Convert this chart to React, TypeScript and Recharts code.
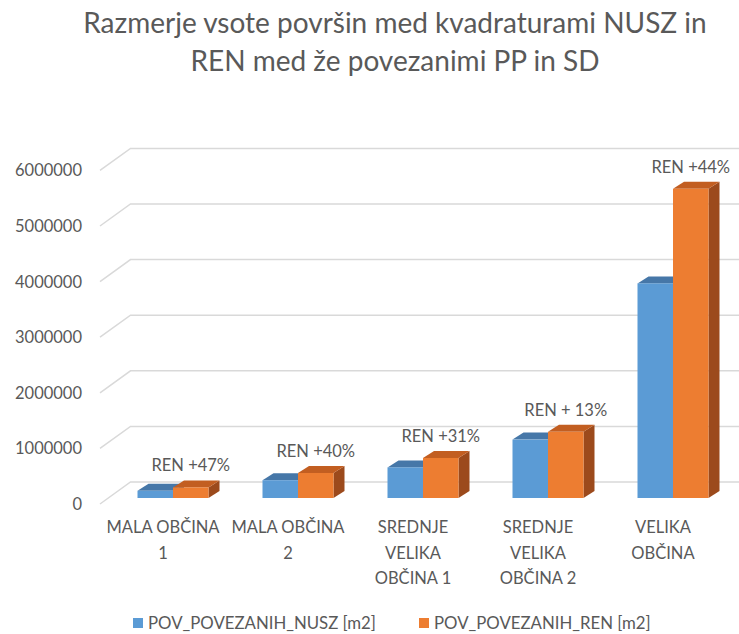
import React from 'react';
import { BarChart, Bar, XAxis, YAxis, CartesianGrid, Legend, LabelList } from 'recharts';

const categories = ['MALA OBČINA 1', 'MALA OBČINA 2', 'SREDNJE VELIKA OBČINA 1', 'SREDNJE VELIKA OBČINA 2', 'VELIKA OBČINA'];
const categoryLines = [
  ['MALA OBČINA', '1'],
  ['MALA OBČINA', '2'],
  ['SREDNJE', 'VELIKA', 'OBČINA 1'],
  ['SREDNJE', 'VELIKA', 'OBČINA 2'],
  ['VELIKA', 'OBČINA'],
];
const nuszValues = [130000, 320000, 550000, 1050000, 3860000];
const renValues = [190000, 450000, 720000, 1190000, 5560000];
const renLabels = ['REN +47%', 'REN +40%', 'REN +31%', 'REN + 13%', 'REN +44%'];
const yTicks = [0, 1000000, 2000000, 3000000, 4000000, 5000000, 6000000];

const data = categories.map((name, i) => ({
  name,
  nusz: nuszValues[i],
  ren: renValues[i],
  label: renLabels[i],
}));

const FONT = 'Lato, "Liberation Sans", sans-serif';
const TEXT = '#595959';
const BLUE = '#5B9BD5';
const ORANGE = '#ED7D31';

// 3D look
const DX = 11;
const DY = 7;

const Bar3D = (props: any) => {
  const { x, y, width, height, fill, topFill, sideFill } = props;
  if (width == null || height == null) return null;
  return (
    <g>
      <path
        d={`M${x + width},${y} L${x + width + DX},${y - DY} L${x + width + DX},${y + height - DY} L${x + width},${y + height} Z`}
        fill={sideFill}
      />
      <path
        d={`M${x},${y} L${x + DX},${y - DY} L${x + width + DX},${y - DY} L${x + width},${y} Z`}
        fill={topFill}
      />
      <rect x={x} y={y} width={width} height={height} fill={fill} />
    </g>
  );
};

// gridline: diagonal on the side wall, then along the back wall
const GridLine = (props: any) => {
  const { x1, x2, y1 } = props;
  const fx = x1 - 10.5;
  const bx = x1 + 20;
  return (
    <path
      key={props.key}
      d={`M${fx},${y1 + 6} L${bx},${y1 - 16} L${x2 + 4},${y1 - 16}`}
      stroke="#d9d9d9"
      strokeWidth={1.5}
      fill="none"
    />
  );
};

const YTick = (props: any) => {
  const { y, payload } = props;
  return (
    <text x={82} y={y + 6} textAnchor="end" dominantBaseline="central" fill={TEXT} fontSize={16.5} fontFamily={FONT}>
      {payload.value}
    </text>
  );
};

const XTick = (props: any) => {
  const { x, y, index } = props;
  const lines = categoryLines[index] || [];
  return (
    <text textAnchor="middle" fill={TEXT} fontSize={16.5} fontFamily={FONT}>
      {lines.map((l, i) => (
        <tspan key={i} x={x - 10} y={y + 29 + i * 25.5} dominantBaseline="central">
          {l}
        </tspan>
      ))}
    </text>
  );
};

const RenLabel = (props: any) => {
  const { x, y, width, value } = props;
  return (
    <text x={x + width / 2} y={y - 22} textAnchor="middle" dominantBaseline="central" fill={TEXT} fontSize={16.5} fontFamily={FONT}>
      {value}
    </text>
  );
};

const LegendContent = () => (
  <div style={{ display: 'flex', paddingLeft: 133, paddingTop: 19, fontFamily: FONT, fontSize: 16.8, color: TEXT, lineHeight: '20px' }}>
    <div style={{ display: 'flex', alignItems: 'center', marginRight: 43 }}>
      <span style={{ width: 10, height: 10, background: BLUE, marginRight: 5, display: 'inline-block' }} />
      POV_POVEZANIH_NUSZ [m2]
    </div>
    <div style={{ display: 'flex', alignItems: 'center' }}>
      <span style={{ width: 10, height: 10, background: ORANGE, marginRight: 5, display: 'inline-block' }} />
      POV_POVEZANIH_REN [m2]
    </div>
  </div>
);

export default function App() {
  return (
    <div style={{ position: 'absolute', left: 0, top: 0, width: 739, height: 634, background: '#fff' }}>
      <div
        style={{
          position: 'absolute',
          left: 51,
          top: 3,
          width: 688,
          textAlign: 'center',
          fontFamily: FONT,
          fontSize: 28,
          lineHeight: '38px',
          color: TEXT,
        }}
      >
        Razmerje vsote površin med kvadraturami NUSZ in
        <br />
        REN med že povezanimi PP in SD
      </div>
      <BarChart
        width={739}
        height={634}
        data={data}
        margin={{ top: 164.4, right: 3.5, left: 0, bottom: 0 }}
        barGap={0}
        barSize={35.5}
      >
        <CartesianGrid vertical={false} horizontal={GridLine as any} />
        <XAxis dataKey="name" axisLine={false} tickLine={false} tickSize={0} tickMargin={0} height={96} tick={XTick} interval={0} />
        <YAxis
          width={110.5}
          domain={[0, 6000000]}
          ticks={yTicks}
          axisLine={false}
          tickLine={false}
          tick={YTick}
          interval={0}
        />
        <Legend verticalAlign="bottom" height={40} content={LegendContent} wrapperStyle={{ left: 0, width: 739 }} />
        <Bar
          dataKey="nusz"
          name="POV_POVEZANIH_NUSZ [m2]"
          fill={BLUE}
          isAnimationActive={false}
          shape={(p: any) => <Bar3D {...p} fill={BLUE} topFill="#4677A8" sideFill="#3F6C96" />}
        />
        <Bar
          dataKey="ren"
          name="POV_POVEZANIH_REN [m2]"
          fill={ORANGE}
          isAnimationActive={false}
          shape={(p: any) => <Bar3D {...p} fill={ORANGE} topFill="#C25E21" sideFill="#9C4A1C" />}
        >
          <LabelList dataKey="label" content={RenLabel} />
        </Bar>
      </BarChart>
    </div>
  );
}
